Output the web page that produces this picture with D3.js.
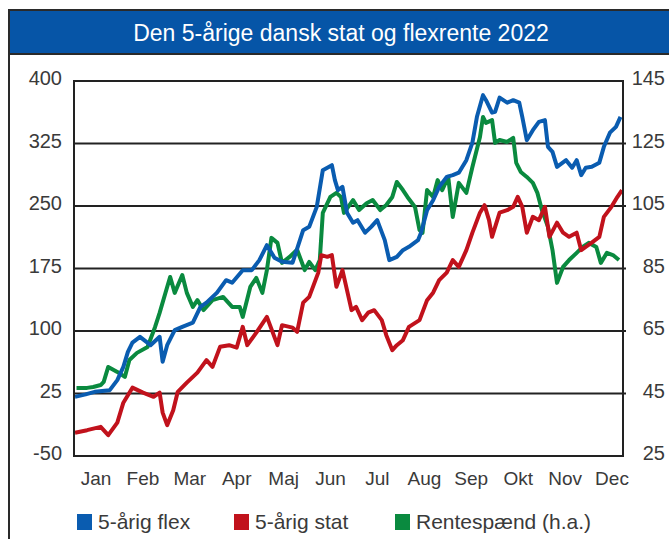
<!DOCTYPE html>
<html>
<head>
<meta charset="utf-8">
<script src="https://cdn.jsdelivr.net/npm/d3@7"></script>
<style>
body { margin: 0; background: #fff; }
text { font-family: "Liberation Sans", Arial, sans-serif; }
</style>
</head>
<body>
<script>
// day of year, value (left axis)
var flex = [
[2,21],[9,24],[15,27],[25,29],[30,41],[34,57],[37,75],[40,86],[45,93],[52,83],[58,93],[60,63],[63,83],
[68,101],[73,105],[80,110],[85,129],[89,134],[96,146],[102,161],[106,158],[113,173],[119,173],[124,185],
[129,203],[134,188],[139,183],[146,182],[153,221],[157,225],[162,249],[166,293],[169,296],[172,299],
[174,281],[176,269],[179,273],[182,242],[186,230],[189,233],[194,218],[198,225],[202,233],[207,209],
[210,185],[215,189],[219,197],[223,201],[229,209],[231,218],[235,245],[239,257],[243,273],[248,285],
[252,287],[256,290],[261,305],[265,326],[268,357],[272,383],[274,377],[278,362],[280,363],[283,380],
[288,374],[292,377],[296,374],[298,357],[301,329],[305,341],[309,351],[313,353],[315,321],[318,315],
[321,297],[327,305],[331,296],[334,305],[337,287],[340,296],[344,297],[349,302],[352,321],[356,338],
[360,345],[363,357]
];

var stat = [
[2,-22],[10,-19],[19,-15],[24,-25],[30,-10],[34,14],[40,32],[47,26],[54,21],[58,26],[60,2],[63,-13],
[67,5],[70,27],[76,38],[83,50],[89,65],[93,57],[98,81],[104,83],[109,80],[113,105],[116,83],[122,98],
[129,117],[136,83],[139,107],[146,104],[149,99],[153,134],[157,141],[163,170],[165,191],[169,189],
[172,191],[175,153],[179,173],[182,149],[185,125],[188,129],[192,113],[196,122],[200,125],[205,113],
[208,95],[212,77],[215,83],[219,89],[223,105],[230,113],[235,137],[239,146],[243,161],[248,170],
[252,185],[256,177],[261,197],[265,218],[270,242],[273,251],[276,233],[278,213],[283,242],[288,245],
[292,249],[295,261],[298,249],[301,218],[305,237],[309,233],[313,249],[316,213],[321,230],[325,218],
[329,213],[334,218],[337,197],[340,201],[344,206],[349,213],[352,237],[357,249],[361,261],[364,269]
];

// day of year, value (right axis)
var spread = [
[3,46.8],[10,46.8],[14,47.1],[19,47.7],[21,48.7],[24,53.5],[30,51.9],[35,50.3],[38,55.7],[43,58.0],
[50,59.9],[55,66.3],[58,70.8],[63,79.1],[65,82.3],[68,77.2],[73,82.9],[76,77.2],[80,72.7],[83,74.9],
[87,71.7],[93,74.9],[100,75.9],[106,72.7],[111,72.7],[113,69.5],[118,79.1],[122,82.0],[126,77.2],
[129,84.5],[132,94.8],[136,93.2],[139,86.8],[144,88.7],[149,91.0],[154,84.5],[157,87.1],[161,84.5],
[164,87.7],[166,102.8],[171,107.9],[175,109.2],[178,107.9],[180,102.8],[186,106.9],[190,103.7],
[195,105.9],[199,106.9],[204,103.7],[208,105.3],[212,107.9],[215,112.7],[219,110.1],[222,107.9],
[227,104.7],[230,97.3],[232,96.4],[235,110.1],[239,107.9],[242,113.3],[245,110.1],[249,114.3],
[252,101.5],[256,112.4],[261,109.2],[265,117.5],[270,127.1],[272,133.5],[274,131.6],[278,132.5],
[280,125.2],[283,126.1],[288,125.5],[292,126.8],[294,118.8],[297,115.9],[301,114.3],[305,112.4],
[308,109.2],[311,103.7],[315,98.3],[318,90.9],[321,80.4],[325,85.5],[329,87.7],[334,90.0],[338,91.9],
[342,93.2],[347,91.9],[350,86.8],[354,90.0],[358,89.3],[362,87.7]
];

var months = ["Jan","Feb","Mar","Apr","Maj","Jun","Jul","Aug","Sep","Okt","Nov","Dec"];
var leftTicks = [400,325,250,175,100,25,-50];
var rightTicks = [145,125,105,85,65,45,25];
var seriesNames = ["5-årig flex","5-årig stat","Rentespænd (h.a.)"];
var colors = ["#0a5cb0","#c1121c","#0a8a3f"];

var w = 669, h = 539;
var pLeft = 74, pRight = 623, pTop = 81, pBottom = 456;

var svg = d3.select("body").append("svg").attr("width",w).attr("height",h);

// frame + title
svg.append("line").attr("x1",9).attr("x2",9).attr("y1",10).attr("y2",h)
  .attr("stroke","#2a2a2a").attr("stroke-width",2);
svg.append("rect").attr("x",9).attr("y",10).attr("width",w).attr("height",44)
  .attr("fill","#0655a7").attr("stroke","#2a2a2a").attr("stroke-width",2);
svg.append("text").text("Den 5-årige dansk stat og flexrente 2022")
  .attr("x",341).attr("y",41).attr("text-anchor","middle")
  .attr("font-size","23px").attr("fill","#fff");

var xScale = d3.scaleLinear().domain([2,364]).range([pLeft+1,pRight-1]);
var yLeft = d3.scaleLinear().domain([-50,400]).range([pBottom,pTop]);
var yRight = d3.scaleLinear().domain([25,145]).range([pBottom,pTop]);
var xMonth = d3.scalePoint().domain(months).range([96,612]);

// grid
svg.selectAll("line.grid").data(leftTicks.slice(1,-1)).enter().append("line")
  .attr("class","grid")
  .attr("x1",pLeft).attr("x2",pRight+3)
  .attr("y1",function(d){ return yLeft(d); })
  .attr("y2",function(d){ return yLeft(d); })
  .attr("stroke","#222").attr("stroke-width",2);

// lines
var lineL = d3.line().x(function(d){ return xScale(d[0]); }).y(function(d){ return yLeft(d[1]); });
var lineR = d3.line().x(function(d){ return xScale(d[0]); }).y(function(d){ return yRight(d[1]); });

svg.append("path").datum(spread).attr("d",lineR).attr("fill","none")
  .attr("stroke",colors[2]).attr("stroke-width",4).attr("stroke-linejoin","round");
svg.append("path").datum(stat).attr("d",lineL).attr("fill","none")
  .attr("stroke",colors[1]).attr("stroke-width",4).attr("stroke-linejoin","round");
svg.append("path").datum(flex).attr("d",lineL).attr("fill","none")
  .attr("stroke",colors[0]).attr("stroke-width",4).attr("stroke-linejoin","round");

svg.append("rect").attr("x",pLeft).attr("y",pTop).attr("width",pRight-pLeft).attr("height",pBottom-pTop)
  .attr("fill","none").attr("stroke","#222").attr("stroke-width",2);

// axis labels
svg.selectAll("text.yl").data(leftTicks).enter().append("text")
  .attr("class","yl").text(function(d){ return d; })
  .attr("x",62).attr("y",function(d){ return yLeft(d)+4; })
  .attr("text-anchor","end").attr("font-size","20px").attr("fill","#3a3a3a");
svg.selectAll("text.yr").data(rightTicks).enter().append("text")
  .attr("class","yr").text(function(d){ return d; })
  .attr("x",665).attr("y",function(d){ return yRight(d)+4; })
  .attr("text-anchor","end").attr("font-size","20px").attr("fill","#3a3a3a");
svg.selectAll("text.mo").data(months).enter().append("text")
  .attr("class","mo").text(function(d){ return d; })
  .attr("x",function(d){ return xMonth(d); }).attr("y",485)
  .attr("text-anchor","middle").attr("font-size","19px").attr("fill","#3a3a3a");

// legend
var legX = [77,234,395];
var leg = svg.selectAll("g.leg").data(seriesNames).enter().append("g").attr("class","leg")
  .attr("transform",function(d,i){ return "translate("+legX[i]+",514)"; });
leg.append("rect").attr("width",15).attr("height",16)
  .attr("fill",function(d,i){ return colors[i]; });
leg.append("text").text(function(d){ return d; })
  .attr("x",21).attr("y",15).attr("font-size","21px").attr("fill","#3a3a3a");
</script>
</body>
</html>
